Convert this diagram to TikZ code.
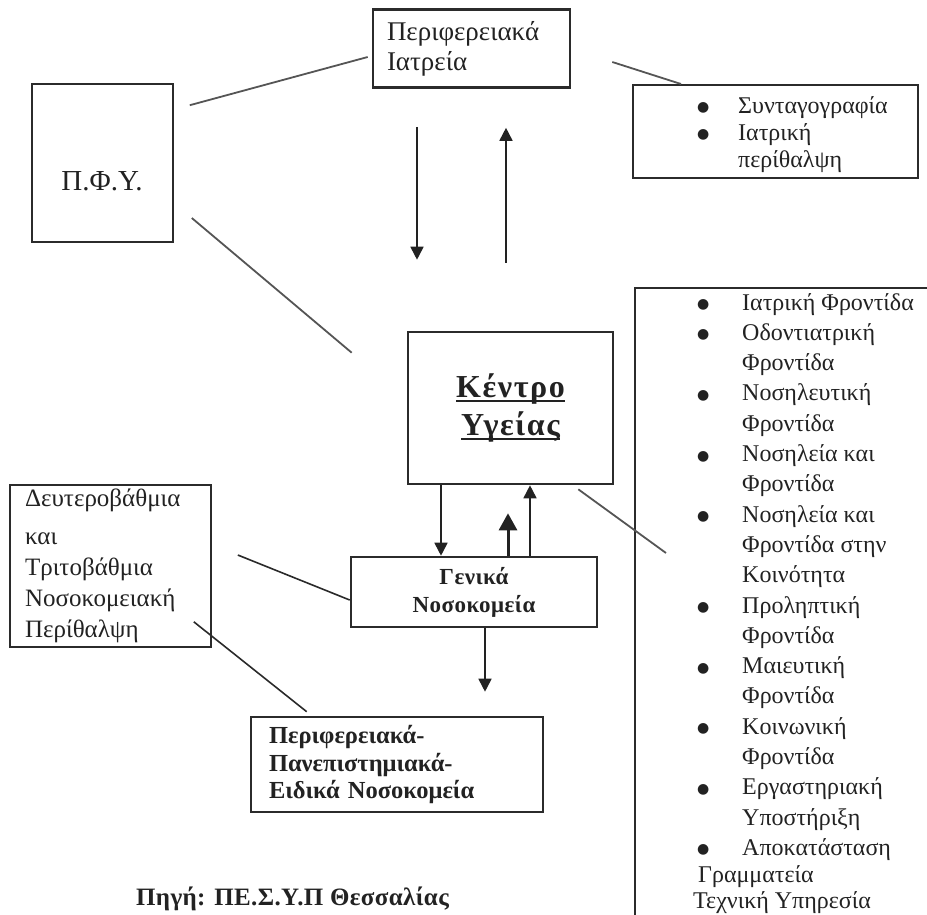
\documentclass[tikz,border=0pt]{standalone}
\usepackage{fontspec}
\setmainfont{Liberation Serif}
\newfontfamily\symf{DejaVu Sans}
\usetikzlibrary{arrows.meta,calc}
\definecolor{ink}{HTML}{222222}
\definecolor{edgec}{HTML}{2B2B2B}
\definecolor{connc}{HTML}{555555}
\definecolor{conndk}{HTML}{2A2A2A}
\newcommand{\fs}[2]{\fontsize{#1}{#2}\selectfont}
\newsavebox{\ulbox}
\newcommand{\ulword}[1]{\sbox{\ulbox}{#1}\rlap{\rule[-5pt]{\wd\ulbox}{2.2pt}}\usebox{\ulbox}}
\newcommand{\bul}{\raisebox{1.5pt}{\symf\fontsize{14}{14}\selectfont ●}}
\begin{document}
\begin{tikzpicture}[x=1pt,y=-1pt,
  box/.style={draw=edgec, line width=2pt, inner sep=0pt, text=ink},
  heavy/.style={line width=2.6pt},
  light/.style={line width=1.6pt},
  conn/.style={draw=connc, line width=1.8pt},
  conndark/.style={draw=conndk, line width=1.6pt},
  arr/.style={draw=ink, line width=1.7pt, -{Triangle[width=13pt,length=13pt]}},
  bigarr/.style={draw=ink, line width=3pt, -{Triangle[width=18pt,length=17pt]}},
  txt/.style={text=ink, inner sep=0pt}]
\useasboundingbox (0,0) rectangle (927,914);

% boxes
\node[box, heavy, minimum width=197pt, minimum height=78pt, text width=169pt, align=left, font=\fs{27}{30}] (pi) at (471.5,48.5) {Περιφερειακά\\Ιατρεία};

\node[box, minimum width=285pt, minimum height=93pt] (rtop) at (775.5,131.5) {};
\node[txt, anchor=base west, font=\fs{24}{27}] (rtopl) at (697,113) {\begin{tabular}[t]{@{}p{41pt}@{}l@{}}\bul & Συνταγογραφία\\ \bul & Ιατρική\\ & περίθαλψη\end{tabular}};

\node[box, light, minimum width=141pt, minimum height=158pt] (pfy) at (102.5,163) {};
\node[txt, font=\fs{29}{34}] (pfyt) at (102,181) {Π.Φ.Υ.};

\node[box, heavy, minimum width=205pt, minimum height=152pt, align=center, font=\bfseries\fs{32}{38}\addfontfeatures{LetterSpace=5}] (ky) at (510.5,408) {\ulword{Κέντρο}\\\ulword{Υγείας}};

\node[box, heavy, minimum width=246pt, minimum height=70pt, align=center, font=\bfseries\fs{23}{28}\addfontfeatures{LetterSpace=2}] (gn) at (474,592) {Γενικά\\Νοσοκομεία};

\node[box, light, minimum width=201pt, minimum height=162pt, text width=171pt, align=left, font=\fs{25}{31}] (dt) at (110.5,566) {\vspace*{7pt}Δευτεροβάθμια\\και\\Τριτοβάθμια\\Νοσοκομειακή\\Περίθαλψη};

\node[box, heavy, minimum width=292pt, minimum height=95pt, text width=256pt, align=left, font=\bfseries\fs{24.5}{27.5}] (bb) at (397,764.5) {Περιφερειακά-\\Πανεπιστημιακά-\\Ειδικά Νοσοκομεία};

% open list box on the right
\coordinate (lc) at (635,288);
\draw[draw=edgec, line width=2pt] (lc) ++(300,0) -- (lc) -- ++(0,640);
\node[txt, anchor=base west, font=\fs{24}{30.3}] (rl) at (697,310) {\begin{tabular}[t]{@{}p{45pt}@{}l@{}}
\bul & Ιατρική Φροντίδα\\
\bul & Οδοντιατρική\\
 & Φροντίδα\\
\bul & Νοσηλευτική\\
 & Φροντίδα\\
\bul & Νοσηλεία και\\
 & Φροντίδα\\
\bul & Νοσηλεία και\\
 & Φροντίδα στην\\
 & Κοινότητα\\
\bul & Προληπτική\\
 & Φροντίδα\\
\bul & Μαιευτική\\
 & Φροντίδα\\
\bul & Κοινωνική\\
 & Φροντίδα\\
\bul & Εργαστηριακή\\
 & Υποστήριξη\\
\bul & Αποκατάσταση\\[-3pt]
\multicolumn{2}{@{}l@{}}{\hspace*{1pt}Γραμματεία}\\[-5pt]
\multicolumn{2}{@{}l@{}}{\hspace*{-4pt}Τεχνική Υπηρεσία}
\end{tabular}};

\node[txt, font=\bfseries\fs{25}{30}\addfontfeatures{LetterSpace=1.5}] (src) at (292.5,899) {Πηγή: ΠΕ.Σ.Υ.Π Θεσσαλίας};

% arrows
\draw[arr, shorten <=38pt, shorten >=71pt] ([xshift=-54.5pt]pi.south) -- ([xshift=-93.5pt]ky.north);
\draw[arr, shorten <=68pt, shorten >=39pt] ([xshift=-4.5pt]ky.north) -- ([xshift=34.5pt]pi.south);
\draw[arr] ([xshift=-69.5pt]ky.south) -- ([xshift=-33pt]gn.north);
\draw[bigarr, shorten >=28pt] ([xshift=34pt]gn.north) -- ([xshift=-2.5pt]ky.south);
\draw[arr] ([xshift=56pt]gn.north) -- ([xshift=19.5pt]ky.south);
\draw[arr, shorten >=24pt] ([xshift=11pt]gn.south) -- ([xshift=88pt]bb.north);

% plain connectors
\draw[conn] ($(pfy.north east)+(16,22)$) -- ($(pi.west)+(-4,8.5)$);
\draw[conn] ($(pi.east)+(41,13.5)$) -- ($(rtop.north west)+(49,0)$);
\draw[conn] ($(pfy.east)+(18,55)$) -- ($(ky.north west)+(-55,22)$);
\draw[conn] ($(ky.south east)+(-36,4)$) -- ($(lc)+(31,265)$);
\draw[conndark] ($(dt.east)+(26,-11)$) -- ($(gn.west)+(0,8)$);
\draw[conndark] ($(dt.south east)+(-18,-26)$) -- ($(bb.north west)+(57,-4)$);
\end{tikzpicture}
\end{document}
